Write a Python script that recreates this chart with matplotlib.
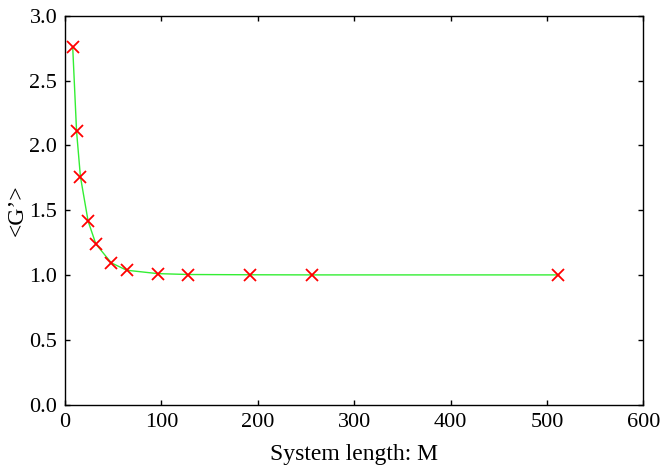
import matplotlib
matplotlib.use("Agg")
import matplotlib.pyplot as plt

M = [8, 12, 16, 24, 32, 48, 64, 96, 128, 192, 256, 512]
G = [2.758, 2.107, 1.758, 1.414, 1.239, 1.093, 1.036, 1.010, 1.003, 1.001, 1.000, 1.000]
xticks = [0, 100, 200, 300, 400, 500, 600]
yticks = [0.0, 0.5, 1.0, 1.5, 2.0, 2.5, 3.0]

plt.rcParams['font.family'] = ['Liberation Serif', 'DejaVu Serif']
plt.rcParams['font.size'] = 16

fig = plt.figure(figsize=(6.64, 4.71), dpi=100)
ax = fig.add_axes([65/664, 1 - 404.5/471, (643.3 - 65)/664, (404.5 - 15.7)/471])
ax.plot(M, G, color='#33ee33', lw=1.0, zorder=2)
ax.plot(M, G, linestyle='none', marker='x', color='red', ms=9, mew=1.3, zorder=3)

ax.set_xlim(0, 600)
ax.set_ylim(0, 3)
ax.set_xticks(xticks)
ax.set_yticks(yticks)
ax.set_yticklabels([f"{v:.1f}" for v in yticks])
ax.tick_params(direction='in', top=True, right=True, length=3.5, width=1, labelsize=16)
ax.tick_params(axis='x', pad=6)
ax.tick_params(axis='y', pad=5.5)
for s in ax.spines.values():
    s.set_linewidth(1.0)
ax.set_xlabel("System length: M", fontsize=17, labelpad=9)
ax.set_ylabel("<G’>", fontsize=17, labelpad=1)
fig.savefig("out.png", dpi=100)
